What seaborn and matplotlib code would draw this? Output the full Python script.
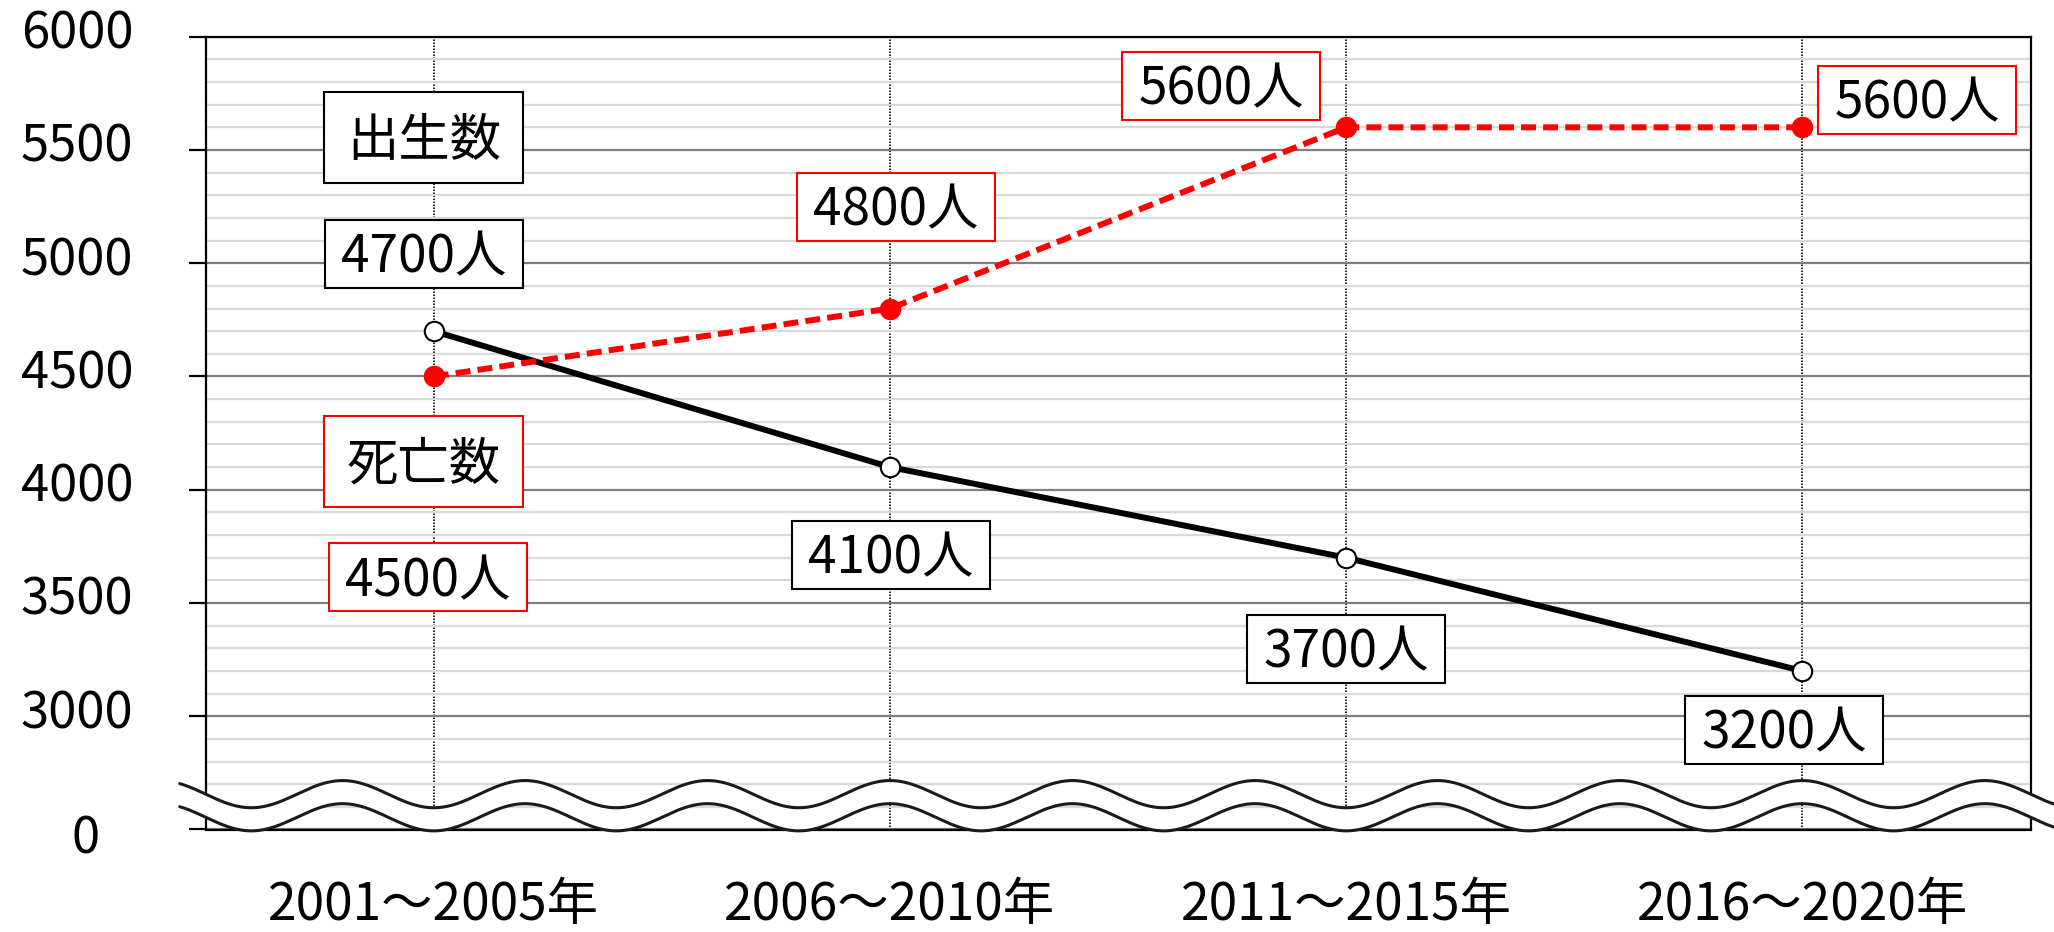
import numpy as np
import pandas as pd
import matplotlib
matplotlib.use('Agg')
import matplotlib.pyplot as plt
import matplotlib.transforms as mtransforms
from matplotlib.patches import Rectangle
import seaborn as sns

# ---------------- data ----------------
periods = ['2001～2005年', '2006～2010年', '2011～2015年', '2016～2020年']
births = [4700, 4100, 3700, 3200]
deaths = [4500, 4800, 5600, 5600]
series_names = ['出生数', '死亡数']
ytick_values = [2500, 3000, 3500, 4000, 4500, 5000, 5500, 6000]
ytick_labels = ['0', '3000', '3500', '4000', '4500', '5000', '5500', '6000']

sns.set_theme(style='white')
plt.rcParams['font.family'] = ['Noto Sans CJK JP', 'DejaVu Sans']

W, H = 2054, 932
fig = plt.figure(figsize=(W / 100, H / 100), dpi=100)
fig.patch.set_facecolor('white')
ax_l, ax_r, ax_t, ax_b = 205.7, 2030.5, 36.7, 829.5
ax = fig.add_axes([ax_l / W, 1 - ax_b / H, (ax_r - ax_l) / W, (ax_b - ax_t) / H])
ax.set_facecolor('white')

x = np.arange(len(periods))
df = pd.DataFrame({'x': x, 'births': births, 'deaths': deaths})

ax.set_xlim(-0.5, len(periods) - 0.5)
ax.set_ylim(ytick_values[0], ytick_values[-1])

# grid
ax.set_yticks(ytick_values)
ax.set_yticklabels(ytick_labels)
minor = [v for v in range(ytick_values[0], ytick_values[-1] + 1, 100) if v % 500 != 0]
ax.set_yticks(minor, minor=True)
ax.set_xticks(x)
ax.set_xticklabels(periods)
ax.set_axisbelow(True)
ax.yaxis.grid(True, which='minor', color='#d9d9d9', lw=1.6)
ax.yaxis.grid(True, which='major', color='#7f7f7f', lw=1.6)
ax.xaxis.grid(True, which='major', color='black', lw=1.2, ls=(0, (0.9, 0.9)))

for s in ax.spines.values():
    s.set_color('black')
    s.set_linewidth(1.6)

ax.tick_params(axis='y', which='major', direction='out', length=12, width=1.6,
               color='black', labelsize=36.5, pad=40, left=True)
ax.tick_params(axis='y', which='minor', length=0)
ax.tick_params(axis='x', which='major', length=0, labelsize=37, pad=35)
for lbl in ax.get_xticklabels():
    lbl.set_color('black')

fig.canvas.draw()
for lbl, val in zip(ax.get_yticklabels(), ytick_values):
    lbl.set_color('black')
    if val == ytick_values[0]:
        off = mtransforms.ScaledTranslation(-34 / 100, -4 / 100, fig.dpi_scale_trans)
    else:
        off = mtransforms.ScaledTranslation(0, 8 / 100, fig.dpi_scale_trans)
    lbl.set_transform(lbl.get_transform() + off)

# lines
LW = 4.3
n0 = len(ax.lines)
sns.lineplot(data=df, x='x', y='births', ax=ax, color='black', lw=LW,
             marker='o', markersize=14, markerfacecolor='white',
             markeredgecolor='black', markeredgewidth=1.5, zorder=7)
ln_b = ax.lines[n0]
ln_b.set_linewidth(LW)
ln_b.set_solid_capstyle('round')
n1 = len(ax.lines)
sns.lineplot(data=df, x='x', y='deaths', ax=ax, color='#ff0000', lw=LW,
             marker='o', markersize=15.5, markerfacecolor='#ff0000',
             markeredgecolor='#ff0000', markeredgewidth=0, zorder=7)
ln_d = ax.lines[n1]
ln_d.set_linewidth(LW)
ln_d.set_linestyle((0, (2.5, 1.2)))
ln_d.set_dash_capstyle('butt')
ax.set_xlabel('')
ax.set_ylabel('')

# axis-break wave
P = 0.4
xs = np.linspace(-0.557, 3.56, 1200)
amp = 60
top = 2656 - amp * np.cos(2 * np.pi * xs / P)
bot = 2554 - amp * np.cos(2 * np.pi * xs / P)
ax.fill_between(xs, bot, top, color='white', zorder=5, clip_on=False, lw=0)
ax.plot(xs, top, color='#1a1a1a', lw=2.2, zorder=6, clip_on=False)
ax.plot(xs, bot, color='#1a1a1a', lw=2.2, zorder=6, clip_on=False)

# label boxes (offsets in pixels from the data point; dy positive = up)
ident = mtransforms.IdentityTransform()
FS = 37


def box(xi, yv, dx, dy, text, edge, w, h):
    px, py = ax.transData.transform((xi, yv))
    cx, cy = px + dx, py + dy
    r = Rectangle((cx - w / 2, cy - h / 2), w, h, transform=ident,
                  facecolor='white', edgecolor=edge, lw=1.5, zorder=8)
    fig.add_artist(r)
    fig.text(cx / W, (cy - 0.36 * FS * 100 / 72) / H, text, ha='center',
             va='baseline', fontsize=FS, color='black', zorder=9)


birth_offsets = [(-10, 77), (1, -88), (0, -91), (-18, -59)]
death_offsets = [(-6, -201), (6, 102), (-125, 41), (115, 27)]
for i, (v, (dx, dy)) in enumerate(zip(births, birth_offsets)):
    box(i, v, dx, dy, f'{v}人', 'black', 198, 68)
for i, (v, (dx, dy)) in enumerate(zip(deaths, death_offsets)):
    box(i, v, dx, dy, f'{v}人', '#ff0000', 198, 68)

box(0, births[0], -10, 194, series_names[0], 'black', 199, 91)
box(0, deaths[0], -10, -85, series_names[1], '#ff0000', 199, 91)

fig.savefig('out.png', dpi=100, facecolor='white')
